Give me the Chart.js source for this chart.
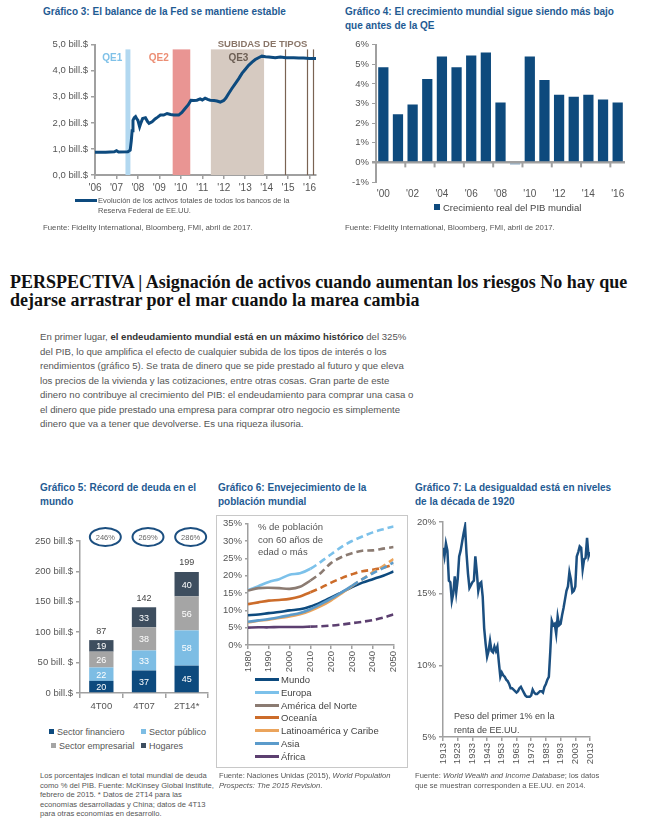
<!DOCTYPE html>
<html>
<head>
<meta charset="utf-8">
<script src="https://cdn.jsdelivr.net/npm/chart.js@4.4.1/dist/chart.umd.min.js"></script>
<style>
  body { margin: 0; background: #fff; font-family: "Liberation Sans", Arial, sans-serif; }
  #page { position: relative; width: 651px; height: 836px; overflow: hidden; }
  .abs { position: absolute; white-space: nowrap; }
  .title { color: #1f5b93; font-weight: bold; font-size: 10px; line-height: 13.5px; }
  .src { font-size: 7.8px; color: #555; line-height: 9.5px; }
  canvas { position: absolute; }
  .leg6 { position: absolute; left: 255px; font-size: 9.5px; color: #444; line-height: 12px; }
  .leg6 span { display: inline-block; width: 24px; height: 3px; vertical-align: middle; margin-right: 2px; position: relative; top: -1px; }
  .sq { display: inline-block; width: 5px; height: 5px; margin-right: 3px; vertical-align: middle; position: relative; top: -1px; }
  .leg5 { font-size: 9px; color: #555; }
</style>
</head>
<body>
<div id="page">
  <!-- top row -->
  <div class="abs title" style="left:43px; top:5px;">Gráfico 3: El balance de la Fed se mantiene estable</div>
  <canvas id="fedChart" width="285" height="165" style="left:40px; top:36px;"></canvas>
  <div class="abs" style="left:75px; top:199px; width:22px; height:3px; background:#0d4a7e;"></div>
  <div class="abs src" style="left:98px; top:196px; font-size:7.5px;">Evolución de los activos totales de todos los bancos de la<br>Reserva Federal de EE.UU.</div>
  <div class="abs src" style="left:43px; top:223px;">Fuente: Fidelity International, Bloomberg, FMI, abril de 2017.</div>

  <div class="abs title" style="left:345px; top:5px;">Gráfico 4: El crecimiento mundial sigue siendo más bajo<br>que antes de la QE</div>
  <canvas id="gdpChart" width="300" height="175" style="left:335px; top:36px;"></canvas>
  <div class="abs" style="left:434px; top:202px; font-size:9.5px; color:#444;"><span class="sq" style="background:#0e4a7d; width:6px; height:6px;"></span>Crecimiento real del PIB mundial</div>
  <div class="abs src" style="left:345px; top:223px;">Fuente: Fidelity International, Bloomberg, FMI, abril de 2017.</div>

  <!-- article text -->
  <div class="abs" style="left:10px; top:273px; font-family:'Liberation Serif', serif; font-weight:bold; font-size:18px; line-height:18px; color:#111;">PERSPECTIVA | Asignación de activos cuando aumentan los riesgos No hay que<br>dejarse arrastrar por el mar cuando la marea cambia</div>
  <div class="abs" style="left:40px; top:330px; font-size:9.6px; line-height:14.5px; color:#555;">En primer lugar, <b style="color:#333">el endeudamiento mundial está en un máximo histórico</b> del 325%<br>del PIB, lo que amplifica el efecto de cualquier subida de los tipos de interés o los<br>rendimientos (gráfico 5). Se trata de dinero que se pide prestado al futuro y que eleva<br>los precios de la vivienda y las cotizaciones, entre otras cosas. Gran parte de este<br>dinero no contribuye al crecimiento del PIB: el endeudamiento para comprar una casa o<br>el dinero que pide prestado una empresa para comprar otro negocio es simplemente<br>dinero que va a tener que devolverse. Es una riqueza ilusoria.</div>

  <!-- bottom row -->
  <div class="abs title" style="left:40px; top:481px;">Gráfico 5: Récord de deuda en el<br>mundo</div>
  <canvas id="debtChart" width="190" height="200" style="left:28px; top:515px;"></canvas>
  <div class="abs leg5" style="left:49px; top:727px;"><span class="sq" style="background:#0d4a7e"></span>Sector financiero</div>
  <div class="abs leg5" style="left:141px; top:727px;"><span class="sq" style="background:#7dbde4"></span>Sector público</div>
  <div class="abs leg5" style="left:51px; top:741px;"><span class="sq" style="background:#a5a5a5"></span>Sector empresarial</div>
  <div class="abs leg5" style="left:141px; top:741px;"><span class="sq" style="background:#3e4e5f"></span>Hogares</div>
  <div class="abs src" style="left:40px; top:771px; font-size:7.6px; line-height:9.5px;">Los porcentajes indican el total mundial de deuda<br>como % del PIB. Fuente: McKinsey Global Institute,<br>febrero de 2015. * Datos de 2T14 para las<br>economías desarrolladas y China; datos de 4T13<br>para otras economías en desarrollo.</div>

  <div class="abs title" style="left:218px; top:481px;">Gráfico 6: Envejecimiento de la<br>población mundial</div>
  <div class="abs" style="left:216px; top:515px; width:190px; height:251px; border:1px solid #c8c8c8;"></div>
  <canvas id="popChart" width="190" height="163" style="left:217px; top:515px;"></canvas>
  <div class="abs" style="left:258px; top:521px; font-size:9.5px; line-height:12.5px; color:#555;">% de población<br>con 60 años de<br>edad o más</div>
  <div id="popLegend"></div>
  <div class="abs src" style="left:219px; top:771px; font-size:7.6px; line-height:9.5px;">Fuente: Naciones Unidas (2015), <i>World Population</i><br><i>Prospects: The 2015 Revision</i>.</div>

  <div class="abs title" style="left:415px; top:481px;">Gráfico 7: La desigualdad está en niveles<br>de la década de 1920</div>
  <canvas id="ineqChart" width="200" height="268" style="left:405px; top:512px;"></canvas>
  <div class="abs" style="left:454px; top:709px; font-size:9px; line-height:14px; color:#444;">Peso del primer 1% en la<br>renta de EE.UU.</div>
  <div class="abs src" style="left:415px; top:771px; font-size:7.6px; line-height:9.5px;">Fuente: <i>World Wealth and Income Database</i>; los datos<br>que se muestran corresponden a EE.UU. en 2014.</div>
</div>

<script>
// ---- Gráfico 3: balance de la Fed (bill. $)
const fedYears = [2006.0, 2006.5, 2006.9, 2007.0, 2007.1, 2007.53, 2007.64, 2007.69, 2007.73, 2007.77, 2007.83, 2007.89, 2007.95, 2008.0, 2008.08, 2008.14, 2008.22, 2008.35, 2008.45, 2008.52, 2008.66, 2008.8, 2008.92, 2009.05, 2009.2, 2009.36, 2009.52, 2009.67, 2009.9, 2010.05, 2010.2, 2010.35, 2010.47, 2010.6, 2010.75, 2010.9, 2011.0, 2011.13, 2011.25, 2011.37, 2011.55, 2011.68, 2011.84, 2012.0, 2012.1, 2012.23, 2012.38, 2012.54, 2012.7, 2012.85, 2013.0, 2013.16, 2013.32, 2013.47, 2013.62, 2013.78, 2013.95, 2014.1, 2014.4, 2014.64, 2014.9, 2015.26, 2015.5, 2015.72, 2016.0, 2016.3];
const fedValues = [0.87, 0.87, 0.89, 0.93, 0.88, 0.89, 0.95, 1.3, 1.7, 2.1, 2.2, 2.24, 2.15, 2.1, 1.85, 2.0, 2.17, 2.2, 2.05, 1.98, 2.04, 2.15, 2.22, 2.3, 2.3, 2.36, 2.32, 2.3, 2.3, 2.4, 2.55, 2.7, 2.87, 2.86, 2.87, 2.92, 2.88, 2.95, 2.9, 2.87, 2.86, 2.84, 2.8, 2.86, 2.95, 3.13, 3.32, 3.51, 3.7, 3.9, 4.05, 4.21, 4.33, 4.43, 4.5, 4.56, 4.54, 4.53, 4.5, 4.53, 4.5, 4.5, 4.49, 4.49, 4.47, 4.47];
const fedTickYears = [2006, 2007, 2008, 2009, 2010, 2011, 2012, 2013, 2014, 2015, 2016];
const qeNames = ["QE1", "QE2", "QE3"];
const qeStart = [2007.42, 2009.62, 2011.4];
const qeEnd = [2007.65, 2010.44, 2013.88];
const rateHikes = [2014.86, 2015.9, 2016.18];

// ---- Gráfico 4: crecimiento real del PIB mundial (%)
const gdpYears = [2000, 2001, 2002, 2003, 2004, 2005, 2006, 2007, 2008, 2009, 2010, 2011, 2012, 2013, 2014, 2015, 2016];
const gdpGrowth = [4.85, 2.45, 2.95, 4.25, 5.4, 4.85, 5.45, 5.6, 3.05, -0.1, 5.4, 4.2, 3.45, 3.35, 3.45, 3.2, 3.05];

// ---- Gráfico 5: deuda mundial (bill. $)
const debtPeriods = ["4T00", "4T07", "2T14*"];
const debtFinanciero = [20, 37, 45];
const debtPublico = [22, 33, 58];
const debtEmpresarial = [26, 38, 56];
const debtHogares = [19, 33, 40];
const debtTotals = [87, 142, 199];
const debtPctGdp = ["246%", "269%", "286%"];

// ---- Gráfico 6: % de población con 60 años o más
const popYears = [1980, 1985, 1990, 1995, 2000, 2005, 2010, 2015, 2020, 2025, 2030, 2035, 2040, 2045, 2050];
const popNames = ["Mundo", "Europa", "América del Norte", "Oceanía", "Latinoamérica y Caribe", "Asia", "África"];
const popMundo = [8.6, 8.8, 9.2, 9.5, 10.0, 10.3, 11.1, 12.3, 13.7, 15.2, 16.7, 18.0, 19.0, 20.0, 21.2];
const popEuropa = [15.8, 17.0, 18.2, 19.0, 20.3, 20.7, 22.0, 24.0, 26.2, 28.3, 30.0, 31.3, 32.5, 33.4, 34.2];
const popNorte = [15.7, 16.4, 16.5, 16.4, 16.2, 16.8, 18.6, 20.8, 23.7, 25.4, 26.5, 27.2, 27.3, 27.8, 28.3];
const popOceania = [11.8, 12.3, 12.8, 13.0, 13.3, 14.0, 15.2, 16.5, 18.0, 19.3, 20.4, 21.3, 21.7, 22.3, 23.2];
const popLatam = [6.5, 7.0, 7.3, 7.8, 8.2, 8.9, 9.9, 11.2, 12.9, 14.9, 17.0, 19.0, 21.0, 22.8, 24.8];
const popAsia = [6.7, 7.1, 7.5, 8.0, 8.6, 9.2, 10.3, 11.8, 13.4, 15.2, 17.1, 19.0, 20.7, 22.2, 23.8];
const popAfrica = [5.0, 5.1, 5.1, 5.2, 5.2, 5.2, 5.3, 5.4, 5.6, 5.9, 6.3, 6.7, 7.2, 7.9, 8.8];

// ---- Gráfico 7: peso del 1% en la renta de EE.UU. (%), 1913-2013
const ineqFirstYear = 1913;
const ineqShare = [
  18.2, 17.6, 18.5, 18.0, 15.9, 15.8, 14.5, 15.0, 16.2, 15.1,
  16.0, 17.6, 18.0, 18.6, 19.2, 19.7, 17.8, 16.4, 15.4, 15.6,
  15.8, 15.9, 17.6, 16.5, 15.2, 15.7, 15.8, 14.8, 12.6, 11.5,
  10.6, 11.0, 11.7, 11.0, 10.9, 11.3, 11.0, 11.3, 10.2, 9.2,
  9.5, 9.3, 9.2, 9.0, 8.9, 8.7, 8.4, 8.4, 8.3, 8.2,
  8.1, 8.2, 8.4, 8.5, 8.3, 8.1, 7.9, 7.8, 7.8, 7.8,
  7.9, 8.3, 8.1, 8.0, 8.0, 8.1, 8.2, 8.2, 8.1, 8.5,
  8.7, 9.0, 9.2, 11.0, 13.1, 12.8, 12.9, 12.2, 13.4, 12.8,
  12.9, 13.5, 14.0, 14.6, 15.2, 15.5, 16.5, 16.0, 15.1, 15.2,
  15.5, 17.6, 17.9, 18.3, 18.2, 16.7, 17.4, 17.5, 18.9, 17.6,
  17.9
];

// ---------------------------------------------------------------
const FONT = '"Liberation Sans", Arial, sans-serif';
Chart.defaults.font.family = FONT;
Chart.defaults.color = "#444";
Chart.defaults.animation = false;
Chart.defaults.responsive = false;
Chart.defaults.plugins.legend.display = false;
Chart.defaults.plugins.tooltip.enabled = false;

const NAVY = "#0d4a7e";
const AXIS = "#a0a0a0";

// * common axis look: gray line, small tick marks, no grid inside
function axisGrid(len) {
    return { drawOnChartArea: false, tickLength: len, color: AXIS, lineWidth: 1.5 };
}

// ---- Gráfico 3
const fedOverlay = {
    id: "fedOverlay",
    beforeDatasetsDraw(chart) {
        const { ctx: c, scales: { x, y } } = chart;
        const bandColors = ["#b2d8f0", "#e99593", "#d6cac1"];
        const labelColors = ["#7fc1e8", "#ec8e74", "#6d5f55"];
        const top = y.getPixelForValue(4.82), base = y.getPixelForValue(0);
        c.save();
        qeNames.forEach((name, i) => {
            const x0 = x.getPixelForValue(qeStart[i]), x1 = x.getPixelForValue(qeEnd[i]);
            c.fillStyle = bandColors[i];
            c.fillRect(x0, top, x1 - x0, base - top);
        });
        c.strokeStyle = "#7a6353";
        c.lineWidth = 1.2;
        rateHikes.forEach((v) => {
            const px = Math.round(x.getPixelForValue(v)) + 0.5;
            c.beginPath(); c.moveTo(px, top); c.lineTo(px, base); c.stroke();
        });
        c.font = "bold 10px " + FONT;
        c.textBaseline = "middle";
        c.textAlign = "right";
        const labelRight = [qeStart[0] - 0.15, qeStart[1] - 0.18, 2013.15];
        qeNames.forEach((name, i) => {
            c.fillStyle = labelColors[i];
            c.fillText(name, x.getPixelForValue(labelRight[i]), y.getPixelForValue(4.49));
        });
        c.font = "bold 9.5px " + FONT;
        c.fillStyle = "#8a7669";
        c.fillText("SUBIDAS DE TIPOS", x.getPixelForValue(2015.9), y.getPixelForValue(5.02));
        c.restore();
    },
};

new Chart(document.getElementById("fedChart"), {
    type: "line",
    data: {
        datasets: [{
            data: fedYears.map((yr, i) => ({ x: yr, y: fedValues[i] })),
            borderColor: NAVY,
            borderWidth: 3,
            pointRadius: 0,
            tension: 0,
        }],
    },
    options: {
        layout: { padding: { top: 8.5, right: 9 } },
        scales: {
            x: {
                type: "linear", min: 2006, max: 2016.3,
                afterBuildTicks: (s) => { s.ticks = fedTickYears.map((v) => ({ value: v })); },
                afterFit: (s) => { s.height = 26; },
                ticks: { callback: (v) => "'" + String(Math.round(v)).slice(2), font: { size: 10 }, color: "#555", padding: 3 },
                grid: axisGrid(4),
                border: { color: AXIS, width: 2 },
            },
            y: {
                min: 0, max: 5,
                afterFit: (s) => { s.width = 55; },
                ticks: { stepSize: 1, callback: (v) => v.toFixed(1).replace(".", ",") + " bill.$", font: { size: 9.5 }, color: "#555", padding: 3 },
                grid: axisGrid(4),
                border: { color: AXIS, width: 2 },
            },
        },
    },
    plugins: [fedOverlay],
});

// ---- Gráfico 4
const zeroTicks = {
    id: "zeroTicks",
    afterDatasetsDraw(chart) {
        const { ctx: c, scales: { x, y } } = chart;
        const y0 = y.getPixelForValue(0);
        c.save();
        c.strokeStyle = AXIS;
        c.lineWidth = 2;
        for (let i = 1; i < gdpYears.length - 1; i += 2) {
            const px = (x.getPixelForValue(i) + x.getPixelForValue(i + 1)) / 2;
            c.beginPath(); c.moveTo(px, y0); c.lineTo(px, y0 + 5); c.stroke();
        }
        c.restore();
    },
};

new Chart(document.getElementById("gdpChart"), {
    type: "bar",
    data: {
        labels: gdpYears,
        datasets: [{
            data: gdpGrowth,
            backgroundColor: "#0e4a7d",
            barPercentage: 0.7,
            categoryPercentage: 1,
        }],
    },
    options: {
        layout: { padding: { top: 7, right: 10 } },
        scales: {
            x: {
                afterFit: (s) => { s.height = 29; },
                ticks: {
                    autoSkip: false, maxRotation: 0, font: { size: 10 }, color: "#555", padding: 6,
                    callback: (v, i) => (i % 2 === 0 ? "'" + String(gdpYears[i]).slice(2) : ""),
                },
                grid: { display: false, drawTicks: false },
                border: { display: false },
            },
            y: {
                min: -1, max: 6,
                afterFit: (s) => { s.width = 41; },
                ticks: { stepSize: 1, callback: (v) => v + "%", font: { size: 9.5 }, color: "#555", padding: 3 },
                grid: {
                    tickLength: 4, tickColor: AXIS,
                    color: (c) => (c.tick && c.tick.value === 0 ? AXIS : "rgba(0,0,0,0)"),
                    lineWidth: (c) => (c.tick && c.tick.value === 0 ? 2.5 : 1),
                },
                border: { color: AXIS, width: 2 },
            },
        },
    },
    plugins: [zeroTicks],
});

// ---- Gráfico 5
const debtLabels = {
    id: "debtLabels",
    afterDatasetsDraw(chart) {
        const c = chart.ctx;
        c.save();
        c.textAlign = "center";
        c.textBaseline = "middle";
        c.font = "9px " + FONT;
        chart.data.datasets.forEach((ds, di) => {
            chart.getDatasetMeta(di).data.forEach((bar, i) => {
                c.fillStyle = "#fff";
                c.fillText(ds.data[i], bar.x, (bar.y + bar.base) / 2 + 1);
            });
        });
        const topBars = chart.getDatasetMeta(chart.data.datasets.length - 1).data;
        topBars.forEach((bar, i) => {
            c.fillStyle = "#444";
            c.font = "9px " + FONT;
            c.fillText(debtTotals[i], bar.x, bar.y - 9);
            const cx = bar.x + 4, cy = chart.chartArea.top - 4;
            c.beginPath();
            c.ellipse(cx, cy, 15.5, 9, 0, 0, Math.PI * 2);
            c.strokeStyle = "#1c4f80";
            c.lineWidth = 2;
            c.stroke();
            c.fillStyle = "#666";
            c.font = "7.5px " + FONT;
            c.fillText(debtPctGdp[i], cx, cy + 0.5);
        });
        c.restore();
    },
};

new Chart(document.getElementById("debtChart"), {
    type: "bar",
    data: {
        labels: debtPeriods,
        datasets: [
            { label: "Sector financiero", data: debtFinanciero, backgroundColor: "#0d4a7e" },
            { label: "Sector público", data: debtPublico, backgroundColor: "#7dbde4" },
            { label: "Sector empresarial", data: debtEmpresarial, backgroundColor: "#a5a5a5" },
            { label: "Hogares", data: debtHogares, backgroundColor: "#3e4e5f" },
        ].map((d) => Object.assign(d, { barPercentage: 0.57, categoryPercentage: 1 })),
    },
    options: {
        layout: { padding: { top: 26, right: 10 } },
        scales: {
            x: {
                stacked: true,
                afterFit: (s) => { s.height = 22; },
                ticks: { font: { size: 9.5 }, color: "#555", padding: 3 },
                grid: axisGrid(5),
                border: { color: AXIS, width: 1.5 },
            },
            y: {
                stacked: true, min: 0, max: 250,
                afterFit: (s) => { s.width = 52; },
                ticks: { stepSize: 50, callback: (v) => (v === 50 ? "50 bill. $" : v + " bill.$"), font: { size: 9.5 }, color: "#555", padding: 3 },
                grid: axisGrid(4),
                border: { color: AXIS, width: 1.5 },
            },
        },
    },
    plugins: [debtLabels],
});

// ---- Gráfico 6
const popSeries = [popMundo, popEuropa, popNorte, popOceania, popLatam, popAsia, popAfrica];
const popColors = ["#0d4a7e", "#7cc1ea", "#8b7b72", "#cc6c2a", "#eba45c", "#5b9bcb", "#5c3f70"];
const popDashFrom = [99, 6, 6, 6, 10, 10, 6];

new Chart(document.getElementById("popChart"), {
    type: "line",
    data: {
        datasets: popSeries.map((vals, k) => ({
            label: popNames[k],
            data: popYears.map((yr, i) => ({ x: yr, y: vals[i] })),
            borderColor: popColors[k],
            borderWidth: 2.6,
            pointRadius: 0,
            tension: 0.3,
            segment: { borderDash: (c) => (c.p0DataIndex >= popDashFrom[k] ? [7, 4] : undefined) },
        })).reverse(),
    },
    options: {
        layout: { padding: { top: 8, right: 7 } },
        scales: {
            x: {
                type: "linear", min: 1980, max: 2050,
                afterFit: (s) => { s.height = 33; },
                ticks: { stepSize: 10, minRotation: 90, maxRotation: 90, font: { size: 9.5 }, color: "#555", padding: 2, callback: (v) => String(v) },
                grid: axisGrid(4),
                border: { color: AXIS, width: 1.5 },
            },
            y: {
                min: 0, max: 35,
                afterFit: (s) => { s.width = 31; },
                ticks: { stepSize: 5, callback: (v) => v + "%", font: { size: 9.5 }, color: "#555", padding: 3 },
                grid: axisGrid(3),
                border: { color: AXIS, width: 1.5 },
            },
        },
    },
});

// * HTML legend under chart 6
const popLegend = document.getElementById("popLegend");
popNames.forEach((name, k) => {
    const row = document.createElement("div");
    row.className = "leg6";
    row.style.top = (674 + k * 12.8) + "px";
    row.innerHTML = '<span style="background:' + popColors[k] + '"></span>' + name;
    popLegend.appendChild(row);
});

// ---- Gráfico 7
new Chart(document.getElementById("ineqChart"), {
    type: "line",
    data: {
        datasets: [{
            data: ineqShare.map((v, i) => ({ x: ineqFirstYear + i, y: v })),
            borderColor: "#1b4f80",
            borderWidth: 2.5,
            pointRadius: 0,
            tension: 0,
        }],
    },
    options: {
        layout: { padding: { top: 10, right: 15 } },
        scales: {
            x: {
                type: "linear", min: 1913, max: 2013,
                afterFit: (s) => { s.height = 43; },
                ticks: { stepSize: 10, minRotation: 90, maxRotation: 90, font: { size: 9.5 }, color: "#555", padding: 2, callback: (v) => String(v) },
                grid: axisGrid(4),
                border: { color: AXIS, width: 1.5 },
            },
            y: {
                min: 5, max: 20,
                afterFit: (s) => { s.width = 38; },
                ticks: { stepSize: 5, callback: (v) => v + "%", font: { size: 9.5 }, color: "#555", padding: 3 },
                grid: axisGrid(4),
                border: { color: AXIS, width: 1.5 },
            },
        },
    },
});
</script>
</body>
</html>
